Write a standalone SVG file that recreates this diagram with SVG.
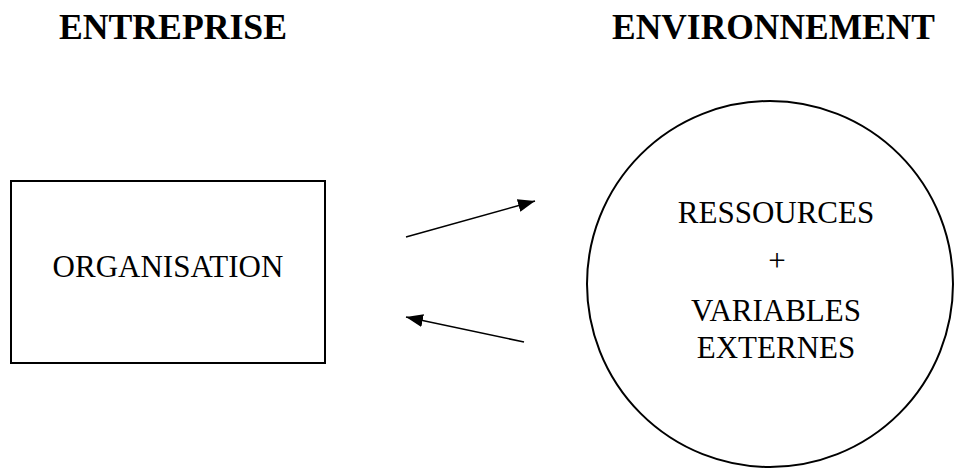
<svg xmlns="http://www.w3.org/2000/svg" width="955" height="470" viewBox="0 0 955 470">
<style>
.h{font-family:"Liberation Serif","Times New Roman",serif;font-weight:bold;font-size:36px;fill:#000}
.t{font-family:"Liberation Serif","Times New Roman",serif;font-size:31px;fill:#000;text-anchor:middle}
.shape{fill:#fff;stroke:#000;stroke-width:2}
.conn{stroke:#000;stroke-width:1.6;fill:none}
</style>
<defs>
<marker id="ah" viewBox="0 0 17 13" refX="17" refY="6.5" markerWidth="17" markerHeight="13" orient="auto" markerUnits="userSpaceOnUse">
<path d="M0,0 L17,6.5 L0,13 Z" fill="#000"/>
</marker>
</defs>
<rect width="955" height="470" fill="#fff"/>
<g id="title-entreprise"><text class="h" x="59" y="39" textLength="228" lengthAdjust="spacingAndGlyphs">ENTREPRISE</text></g>
<g id="title-environnement"><text class="h" x="612" y="39" textLength="323" lengthAdjust="spacingAndGlyphs">ENVIRONNEMENT</text></g>
<g id="organisation">
<rect class="shape" x="11" y="181" width="314" height="182"/>
<text class="t" x="168" y="277">ORGANISATION</text>
</g>
<g id="environnement">
<circle class="shape" cx="770" cy="284" r="183"/>
<text class="t" x="776" y="223">RESSOURCES</text>
<text class="t" x="777" y="271">+</text>
<text class="t" x="776" y="321">VARIABLES</text>
<text class="t" x="776" y="358">EXTERNES</text>
</g>
<g id="connectors">
<line class="conn" x1="406" y1="237" x2="535" y2="201" marker-end="url(#ah)"/>
<line class="conn" x1="524" y1="342" x2="406" y2="317" marker-end="url(#ah)"/>
</g>
</svg>
